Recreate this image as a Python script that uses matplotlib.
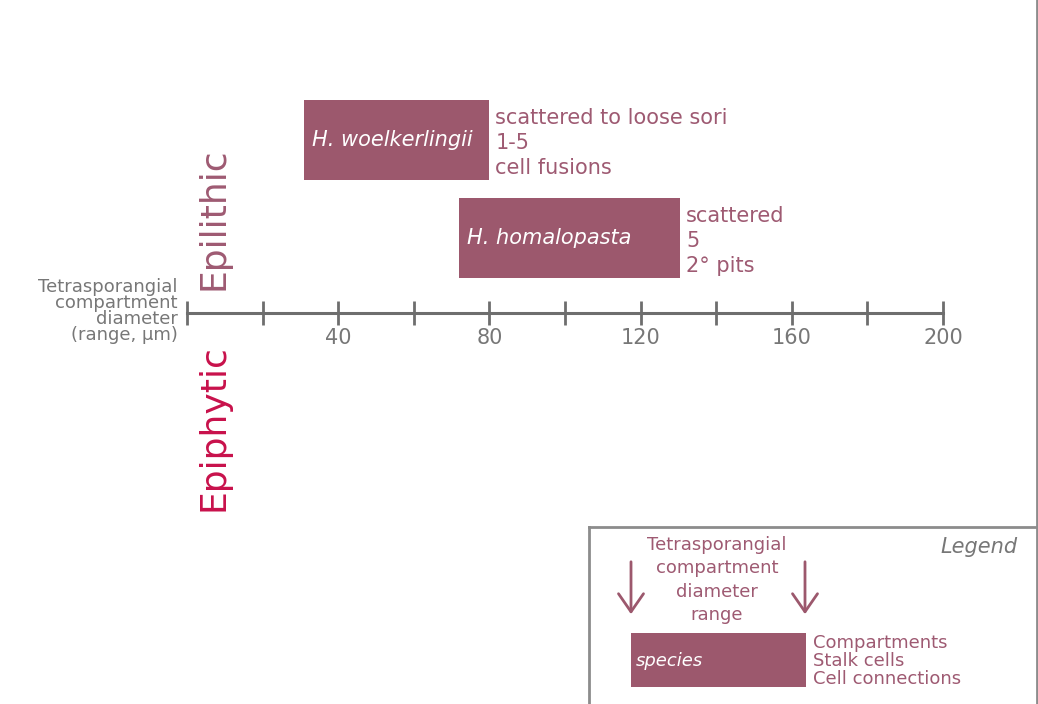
import matplotlib.pyplot as plt
from matplotlib.patches import Rectangle

# data: diameter ranges (um) of tetrasporangial compartments
species = ['H. woelkerlingii', 'H. homalopasta']
range_start = [31, 72]
range_end = [80, 130.5]
traits = ['scattered to loose sori\n1-5\ncell fusions',
          'scattered\n5\n2\u00b0 pits']
tick_values = list(range(0, 201, 20))
tick_labels = ['', '', '40', '', '80', '', '120', '', '160', '', '200']

bar_col = '#9c586d'
txt_col = '#9e5a72'
grey = '#6e6e6e'
red = '#c8114b'

W, H = 1038, 704
fig = plt.figure(figsize=(W / 100, H / 100), dpi=100)
fig.patch.set_facecolor('white')

# main axes: x in um, y in pixel rows (top = 0)
ax = fig.add_axes([187 / W, 0, 756 / W, 1])
ax.set_xlim(0, 200)
ax.set_ylim(H, 0)
ax.patch.set_alpha(0)
for s in ['top', 'left', 'right']:
    ax.spines[s].set_visible(False)
ax.spines['bottom'].set_position(('data', 313))
ax.spines['bottom'].set_color(grey)
ax.spines['bottom'].set_linewidth(2.2)
ax.set_yticks([])
ax.set_xticks(tick_values)
ax.set_xticklabels(tick_labels)
ax.tick_params(axis='x', direction='inout', length=17, width=2, color=grey,
               labelcolor='#777777', labelsize=15, pad=2)

rows = [140, 238]
ax.barh(rows, [e - s for s, e in zip(range_start, range_end)], left=range_start,
        height=80, color=bar_col)
for name, s, e, t, y in zip(species, range_start, range_end, traits, rows):
    ax.annotate(name, xy=(s, y), xytext=(8, 0), textcoords='offset pixels',
                ha='left', va='center', color='white', fontsize=15, style='italic')
    ax.annotate(t, xy=(e, y + 3), xytext=(6, 0), textcoords='offset pixels',
                ha='left', va='center', color=txt_col, fontsize=15, linespacing=1.33)

# overlay in pixel coordinates for labels and legend
ov = fig.add_axes([0, 0, 1, 1])
ov.set_xlim(0, W)
ov.set_ylim(H, 0)
ov.axis('off')
ov.patch.set_alpha(0)

ov.text(178, 311, 'Tetrasporangial\ncompartment\ndiameter\n(range, \u00b5m)',
        ha='right', va='center', multialignment='right', color='#777777',
        fontsize=13, linespacing=0.85)
ov.text(213, 219, 'Epilithic', rotation=90, ha='center', va='center',
        color=txt_col, fontsize=26)
ov.text(213, 428, 'Epiphytic', rotation=90, ha='center', va='center',
        color=red, fontsize=26)

# frame lines
ov.plot([1037, 1037], [0, H], color='#8c8c8c', lw=2)
ov.plot([589, 1037], [527, 527], color='#8c8c8c', lw=2)
ov.plot([589, 589], [527, H], color='#8c8c8c', lw=2)

# legend content
ov.text(1018, 547, 'Legend', ha='right', va='center', style='italic',
        color='#777777', fontsize=15)
ov.text(717, 580, 'Tetrasporangial\ncompartment\ndiameter\nrange',
        ha='center', va='center', color=txt_col, fontsize=13, linespacing=1.38)
for x in [631, 805]:
    ov.annotate('', xy=(x, 617), xytext=(x, 559),
                arrowprops=dict(arrowstyle='->,head_length=1.3,head_width=0.9',
                                color=bar_col, lw=2))
ov.add_patch(Rectangle((631, 633), 175, 54, color=bar_col, lw=0))
ov.text(636, 661, 'species', ha='left', va='center', style='italic',
        color='white', fontsize=13)
ov.text(813, 661, 'Compartments\nStalk cells\nCell connections', ha='left',
        va='center', color=txt_col, fontsize=13, linespacing=1.02)

fig.savefig('out.png', dpi=100)
